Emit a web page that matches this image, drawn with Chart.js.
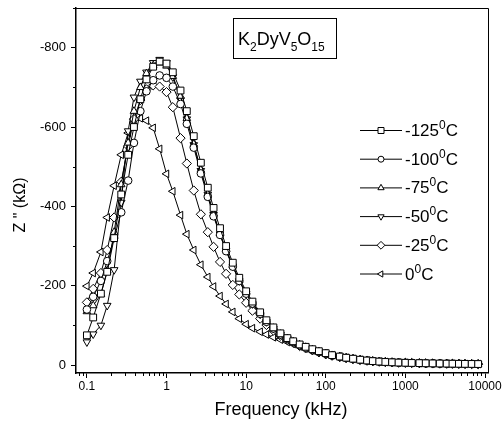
<!DOCTYPE html>
<html lang="en">
<head>
<meta charset="UTF-8" />
<title>K2DyV5O15 - Z'' vs frequency</title>
<script src="https://cdn.jsdelivr.net/npm/chart.js"></script>
<style>
  body { margin: 0; background: #fff; }
  #wrap { width: 502px; height: 423px; position: relative; }
</style>
</head>
<body>
<div id="wrap"><canvas id="grafica"></canvas></div>
<script>
// frequencies (kHz)
const freq = [0.1, 0.12, 0.15, 0.18, 0.22, 0.27, 0.33, 0.39, 0.47, 0.56, 0.68, 0.82,
  1, 1.2, 1.5, 1.8, 2.2, 2.7, 3.3, 3.9, 4.7, 5.6, 6.8, 8.2,
  10, 12, 15, 18, 22, 27, 33, 39, 47, 56, 68, 82,
  100, 120, 150, 180, 220, 270, 330, 390, 470, 560, 680, 820,
  1000, 1200, 1500, 1800, 2200, 2700, 3300, 3900, 4700, 5600, 6800, 8200];

// Z'' (kOhm) per temperature
const zM125 = [-75, -120, -180, -235, -320, -430, -530, -600, -670, -720, -752, -765,
  -760, -738, -692, -640, -577, -510, -447, -396, -345, -300, -258, -220,
  -186, -160, -133, -113, -95, -80, -68, -60, -52, -46, -40, -35,
  -30, -25, -21.5, -18.5, -16, -13.5, -11.5, -10, -8.8, -7.8, -7, -6.3,
  -5.8, -5.3, -4.9, -4.5, -4.2, -3.9, -3.6, -3.4, -3.2, -3, -2.8, -2.6];
const zM100 = [-140, -172, -212, -262, -320, -385, -465, -560, -640, -690, -718, -730,
  -724, -702, -658, -608, -548, -483, -424, -375, -328, -287, -248, -212,
  -180, -155, -129, -109, -92, -77, -66, -58, -50, -44, -38, -33,
  -29, -24, -21, -18, -15.5, -13, -11.2, -9.8, -8.6, -7.7, -6.9, -6.2,
  -5.7, -5.2, -4.8, -4.4, -4.1, -3.8, -3.5, -3.3, -3.1, -2.9, -2.7, -2.5];
const zM75 = [-135, -150, -178, -238, -335, -455, -560, -640, -700, -735, -755, -762,
  -754, -728, -678, -622, -557, -492, -432, -382, -332, -291, -251, -214,
  -182, -156, -130, -110, -93, -78, -67, -59, -51, -45, -39, -34,
  -29, -24.5, -21, -18, -15.8, -13.3, -11.4, -10, -8.8, -7.8, -7, -6.3,
  -5.8, -5.3, -4.9, -4.5, -4.2, -3.9, -3.6, -3.4, -3.2, -3, -2.8, -2.6];
const zM50 = [-58, -78, -100, -150, -240, -410, -590, -675, -715, -738, -762, -770,
  -762, -726, -668, -620, -555, -490, -430, -379, -330, -289, -249, -212,
  -180, -154, -128, -109, -92, -77, -66, -58, -50, -44, -38, -33,
  -28, -24, -21, -18, -15.6, -13.2, -11.3, -9.9, -8.7, -7.7, -6.9, -6.2,
  -5.7, -5.2, -4.8, -4.4, -4.1, -3.8, -3.5, -3.3, -3.1, -2.9, -2.7, -2.5];
const zM25 = [-158, -192, -232, -290, -372, -462, -552, -620, -668, -695, -705, -702,
  -688, -650, -572, -508, -440, -380, -335, -298, -260, -230, -202, -178,
  -157, -137, -117, -101, -87, -74, -63, -56, -48, -42, -37, -32,
  -27, -23.5, -20, -17.5, -15, -12.8, -11, -9.7, -8.5, -7.6, -6.8, -6.1,
  -5.6, -5.1, -4.7, -4.3, -4, -3.7, -3.4, -3.2, -3, -2.8, -2.6, -2.4];
const z0 = [-199, -232, -285, -372, -452, -530, -585, -612, -622, -616, -598, -545,
  -482, -438, -378, -330, -290, -253, -222, -198, -174, -154, -134, -117,
  -103, -93, -84, -77, -70, -64, -58, -53, -47, -42, -37, -33,
  -29, -25, -21.5, -18.5, -15.8, -13.4, -11.5, -10, -8.8, -7.8, -7, -6.3,
  -5.7, -5.2, -4.8, -4.4, -4.1, -3.8, -3.5, -3.3, -3.1, -2.9, -2.7, -2.5];

const temps = ["-125", "-100", "-75", "-50", "-25", "0"];
const xTicks = [0.1, 1, 10, 100, 1000, 10000];
const yTicks = [-800, -600, -400, -200, 0];

const series = [zM125, zM100, zM75, zM50, zM25, z0];
const estilos = [
  { style: "rect", rot: 0, r: 4.8 },
  { style: "circle", rot: 0, r: 3.8 },
  { style: "triangle", rot: 0, r: 4.4 },
  { style: "triangle", rot: 180, r: 4.4 },
  { style: "rectRot", rot: 0, r: 4.6 },
  { style: "triangle", rot: 270, r: 4.4 }
];

const FONT = "'Liberation Sans', Arial, sans-serif";

const datasets = series.map((vals, i) => ({
  label: temps[i],
  data: vals.map((v, j) => ({ x: freq[j], y: v })),
  borderColor: "#000",
  borderWidth: 1,
  pointStyle: estilos[i].style,
  pointRotation: estilos[i].rot,
  pointRadius: estilos[i].r,
  pointBackgroundColor: "#fff",
  pointBorderColor: "#000",
  pointBorderWidth: 1,
  tension: 0
}));

// legend marker
function marcador(ctx, tipo, x, y, r) {
  ctx.beginPath();
  if (tipo === 0) {
    ctx.rect(x - r, y - r, 2 * r, 2 * r);
  } else if (tipo === 1) {
    ctx.arc(x, y, r, 0, Math.PI * 2);
  } else if (tipo === 4) {
    ctx.moveTo(x, y - r * 1.3); ctx.lineTo(x + r * 1.3, y);
    ctx.lineTo(x, y + r * 1.3); ctx.lineTo(x - r * 1.3, y); ctx.closePath();
  } else {
    const a = tipo === 2 ? 0 : tipo === 3 ? Math.PI : -Math.PI / 2;
    for (let k = 0; k < 3; k++) {
      const t = a - Math.PI / 2 + k * 2 * Math.PI / 3;
      const px = x + r * 1.2 * Math.cos(t), py = y + r * 1.2 * Math.sin(t);
      k === 0 ? ctx.moveTo(px, py) : ctx.lineTo(px, py);
    }
    ctx.closePath();
  }
  ctx.fillStyle = "#fff";
  ctx.fill();
  ctx.stroke();
}

// text with sub/superscripts: parts = [[text, size, dy]]
function textoPartes(ctx, parts, x, y) {
  parts.forEach(([t, size, dy]) => {
    ctx.font = size + "px " + FONT;
    ctx.fillText(t, x, y + dy);
    x += ctx.measureText(t).width;
  });
}

const decor = {
  id: "decor",
  afterDraw(chart) {
    const ctx = chart.ctx;
    const a = chart.chartArea;
    const xs = chart.scales.x, ys = chart.scales.y;
    ctx.save();
    ctx.strokeStyle = "#000";
    ctx.fillStyle = "#000";

    // top and right frame
    ctx.lineWidth = 1;
    ctx.beginPath();
    ctx.moveTo(a.left, a.top + 0.5); ctx.lineTo(a.right + 0.5, a.top + 0.5);
    ctx.lineTo(a.right + 0.5, a.bottom);
    ctx.stroke();

    // minor ticks
    ctx.beginPath();
    for (let d = 0.01; d <= 1000; d *= 10) {
      for (let m = 2; m <= 9; m++) {
        const v = m * d;
        if (v < xs.min || v > xs.max) continue;
        const px = Math.round(xs.getPixelForValue(v)) + 0.5;
        ctx.moveTo(px, a.bottom); ctx.lineTo(px, a.bottom + 3);
      }
    }
    for (let v = -900; v <= 0; v += 200) {
      const py = Math.round(ys.getPixelForValue(v)) + 0.5;
      ctx.moveTo(a.left, py); ctx.lineTo(a.left - 3, py);
    }
    ctx.stroke();

    // axis titles
    ctx.textBaseline = "alphabetic";
    ctx.textAlign = "center";
    ctx.font = "18px " + FONT;
    ctx.fillText("Frequency (kHz)", 281, 415);
    ctx.save();
    ctx.translate(25, 205);
    ctx.rotate(-Math.PI / 2);
    ctx.font = "16px " + FONT;
    ctx.fillText('Z " (k\u03A9)', 0, 0);
    ctx.restore();

    // compound label box
    ctx.textAlign = "left";
    ctx.strokeRect(233.5, 18.5, 103, 40);
    textoPartes(ctx, [["K", 18, 0], ["2", 12, 6], ["DyV", 18, 0], ["5", 12, 6],
      ["O", 18, 0], ["15", 12, 6]], 238, 45);

    // legend
    temps.forEach((t, i) => {
      const y = 130 + i * 28.7;
      ctx.beginPath();
      ctx.moveTo(360, y + 0.5); ctx.lineTo(402, y + 0.5);
      ctx.stroke();
      marcador(ctx, i, 381, y + 0.5, 3);
      ctx.fillStyle = "#000";
      textoPartes(ctx, [[t, 17, 0], ["0", 12, -7], ["C", 17, 0]], 405, y + 6);
    });
    ctx.restore();
  }
};

new Chart(document.getElementById("grafica"), {
  type: "line",
  data: { datasets },
  options: {
    responsive: true,
    maintainAspectRatio: false,
    animation: false,
    layout: { padding: { left: 0, right: 14, top: 8, bottom: 0 } },
    plugins: { legend: { display: false }, tooltip: { enabled: false } },
    scales: {
      x: {
        type: "logarithmic",
        min: 0.073,
        max: 10900,
        afterBuildTicks: s => { s.ticks = xTicks.map(v => ({ value: v })); },
        afterFit: s => { s.height = 50; s.paddingLeft = 0; s.paddingRight = 0; },
        ticks: {
          color: "#000",
          font: { family: FONT, size: 12 },
          padding: 1,
          maxRotation: 0,
          autoSkip: false,
          callback: v => String(v)
        },
        grid: { drawOnChartArea: false, tickLength: 5, color: "#000", tickColor: "#000" },
        border: { color: "#000", width: 1.5 }
      },
      y: {
        type: "linear",
        reverse: true,
        min: -900,
        max: 20,
        afterBuildTicks: s => { s.ticks = yTicks.map(v => ({ value: v })); },
        afterFit: s => { s.width = 76; s.paddingTop = 0; s.paddingBottom = 0; },
        ticks: {
          color: "#000",
          font: { family: FONT, size: 13 },
          padding: 5,
          callback: v => String(v)
        },
        grid: { drawOnChartArea: false, tickLength: 5, color: "#000", tickColor: "#000" },
        border: { color: "#000", width: 1.5 }
      }
    }
  },
  plugins: [decor]
});
</script>
</body>
</html>
